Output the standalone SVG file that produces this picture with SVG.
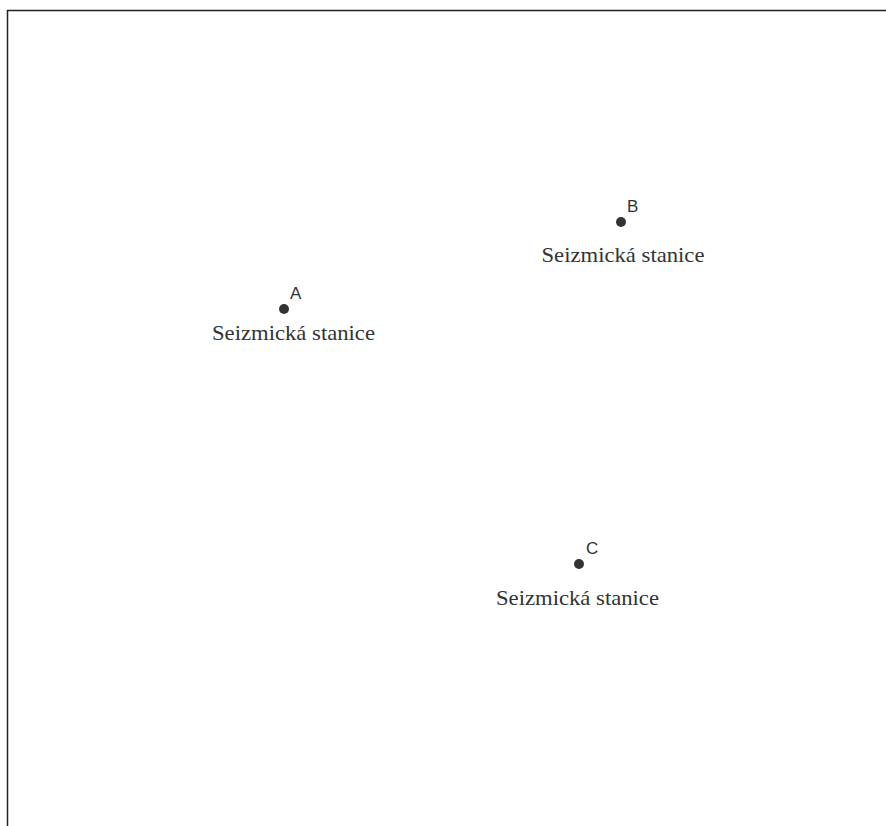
<svg xmlns="http://www.w3.org/2000/svg" width="886" height="826" viewBox="0 0 886 826">
<style>
.frame{fill:none;stroke:#222;stroke-width:1.5}
.dot{fill:#333}
.lbl{font-family:"Liberation Sans",Arial,sans-serif;font-size:17px;fill:#333}
.name{font-family:"Liberation Serif","Times New Roman",serif;font-size:21px;fill:#333;text-anchor:middle}
</style>
<rect width="886" height="826" fill="#fff"/>
<path class="frame" d="M7.5 826 V10.5 H886"/>
<g id="connectors"></g>
<g id="station-A">
<circle class="dot" cx="284" cy="309" r="5"/>
<text class="lbl" x="290" y="299">A</text>
<text class="name" x="293.5" y="340" textLength="163" lengthAdjust="spacingAndGlyphs">Seizmická stanice</text>
</g>
<g id="station-B">
<circle class="dot" cx="621" cy="222" r="5"/>
<text class="lbl" x="627" y="212">B</text>
<text class="name" x="623" y="262" textLength="163" lengthAdjust="spacingAndGlyphs">Seizmická stanice</text>
</g>
<g id="station-C">
<circle class="dot" cx="579" cy="564" r="5"/>
<text class="lbl" x="586" y="554">C</text>
<text class="name" x="577.5" y="605" textLength="163" lengthAdjust="spacingAndGlyphs">Seizmická stanice</text>
</g>
</svg>
